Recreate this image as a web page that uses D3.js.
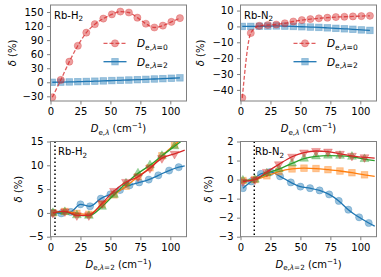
<!DOCTYPE html>
<html>
<head>
<meta charset="utf-8">
<script src="https://cdn.jsdelivr.net/npm/d3@7"></script>
<style>
  body { margin: 0; background: #fff; }
  text { font-family: "DejaVu Sans", sans-serif; }
</style>
</head>
<body>
<svg id="fig" width="381" height="277"></svg>
<script>
// top row: delta vs D_e,lambda
const xTop = [1.5, 8.6, 15.7, 22.8, 29.9, 37, 44.1, 51.2, 58.3, 65.4, 72.5, 79.6, 86.7, 93.8, 100.9, 108];
const h2Lam0 = [-32, 5, 44, 78, 106, 124, 136, 145, 151, 149, 138, 125, 117, 121, 129, 137];
const h2Lam2 = [0, 0.3, 0.7, 1.2, 1.7, 2.3, 2.9, 3.6, 4.2, 4.8, 5.5, 6.2, 7, 7.7, 8.6, 9.4];
const n2Lam0 = [-45, -4.2, 0.4, 0.9, 1.2, 2, 3.1, 4, 4.6, 5.1, 5.5, 5.9, 6.1, 6.3, 6.5, 6.7];
const n2Lam2 = [0, 0, 0.1, 0.2, 0.3, 0.2, 0, -0.2, -0.4, -0.6, -0.9, -1.2, -1.5, -1.8, -2.2, -2.5];

// bottom row: delta vs D_e,lambda=2
const xBlue = [2, 9, 17, 25, 33, 42, 50, 58, 66, 74, 82, 90, 99, 107];
const xFit = [2, 12, 22, 32, 43, 53, 63, 73, 83, 93, 103.5];
const xTail = 112;   // fitted curves run on to the frame edge

const h2Blue = [0, -0.1, 0.2, 1.8, 1.4, 3.0, 3.9, 4.8, 5.8, 6.4, 7.0, 7.9, 8.9, 9.6];
const h2Orange = [0, 0.3, -0.1, -0.3, 1.8, 3.8, 5.6, 7.6, 9.5, 12, 14.3];
const h2Green = [0, 0.2, -0.5, -0.6, 1.3, 3.8, 6.2, 8.3, 10, 12, 14];
const h2Red = [0, 0.3, -0.5, -0.5, 2.0, 4.6, 6.5, 7.6, 9.4, 11.5, 12.4];
const h2Tail = [9.9, 16, 15.6, 13.2];

const n2Blue = [-0.45, -0.1, 0.3, 0.4, 0.17, -0.15, -0.37, -0.45, -0.57, -0.78, -1.12, -1.58, -1.98, -2.28];
const n2Orange = [-0.05, 0, 0.2, 0.42, 0.56, 0.6, 0.58, 0.52, 0.45, 0.36, 0.25];
const n2Green = [-0.05, 0, 0.33, 0.55, 0.85, 1.1, 1.22, 1.26, 1.25, 1.2, 1.08];
const n2Red = [-0.1, 0, 0.4, 0.8, 1.2, 1.42, 1.5, 1.47, 1.35, 1.25, 1.17];
const n2Tail = [-2.45, 0.17, 1.0, 1.13];

const refH2 = 3.75;
const refN2 = 11.5;

const xTicks = [0, 25, 50, 75, 100];
const colors = {blue: '#1f77b4', orange: '#ff7f0e', green: '#2ca02c', red: '#d62728'};

const svg = d3.select('#fig');
const spine = '#808080';

// write a label made of pieces, some of them sub- or superscript
function rich(g, x, y, parts, anchor, size) {
  size = size || 10;
  let t = g.append('text').attr('x', x).attr('y', y)
    .attr('text-anchor', anchor || 'start').attr('font-size', size).attr('fill', '#000');
  let shift = 0;
  parts.forEach(p => {
    let target = p.sub ? 2.6 : (p.sup ? -4 : 0);
    let s = t.append('tspan').text(p.t).attr('dy', target - shift);
    shift = target;
    if (p.sub || p.sup) s.attr('font-size', size * 0.72);
    if (p.it) s.attr('font-style', 'italic');
  });
  return t;
}

function marker(g, shape, cx, cy, color) {
  let m;
  if (shape === 'circle') {
    m = g.append('circle').attr('cx', cx).attr('cy', cy).attr('r', 3.6);
  } else if (shape === 'square') {
    m = g.append('rect').attr('x', cx - 3.3).attr('y', cy - 3.3).attr('width', 6.6).attr('height', 6.6);
  } else {
    let sym = d3.symbol().type(d3.symbolTriangle).size(34);
    m = g.append('path').attr('d', sym())
      .attr('transform', `translate(${cx},${cy})` + (shape === 'down' ? ' rotate(180)' : ''));
  }
  m.attr('fill', color).attr('fill-opacity', 0.45).attr('stroke', color).attr('stroke-opacity', 0.35).attr('stroke-width', 0.8);
}

function series(g, x, y, xs, ys, tail, shape, color, dashed) {
  let pts = xs.map((v, i) => [v, ys[i]]);
  let linePts = tail === null ? pts : pts.concat([[xTail, tail]]);
  let line = d3.line().x(d => x(d[0])).y(d => y(d[1])).curve(d3.curveMonotoneX);
  let p = g.append('path').attr('d', line(linePts)).attr('fill', 'none')
    .attr('stroke', color).attr('stroke-width', 1.3);
  if (dashed) p.attr('stroke-dasharray', '4,2').attr('stroke-opacity', 0.75);
  pts.forEach(d => marker(g, shape, x(d[0]), y(d[1]), color));
}

function panel(cfg) {
  let x = d3.scaleLinear().domain([0, 113.5]).range([cfg.left, cfg.left + 136]);
  let y = d3.scaleLinear().domain(cfg.yDomain).range([cfg.bottom, cfg.top]);
  let g = svg.append('g');

  svg.append('clipPath').attr('id', 'clip' + cfg.id).append('rect')
    .attr('x', cfg.left).attr('y', cfg.top).attr('width', 136).attr('height', cfg.bottom - cfg.top);

  let gx = g.append('g').attr('transform', `translate(0,${cfg.bottom})`)
    .call(d3.axisBottom(x).tickValues(xTicks).tickFormat(d3.format('d')).tickSize(3.5).tickPadding(3.5));
  let gy = g.append('g').attr('transform', `translate(${cfg.left},0)`)
    .call(d3.axisLeft(y).tickValues(cfg.yTicks).tickFormat(d3.format('d')).tickSize(3.5).tickPadding(3.5));
  [gx, gy].forEach(a => {
    a.select('.domain').remove();
    a.attr('font-family', null).attr('font-size', 10);
    a.selectAll('line').attr('stroke', spine);
    a.selectAll('text').attr('fill', '#000');
  });

  let plot = g.append('g').attr('clip-path', `url(#clip${cfg.id})`);
  if (cfg.ref !== undefined) {
    plot.append('line').attr('x1', x(cfg.ref)).attr('x2', x(cfg.ref))
      .attr('y1', cfg.top).attr('y2', cfg.bottom)
      .attr('stroke', '#000').attr('stroke-width', 1.5).attr('stroke-dasharray', '1.5,2.5');
  }
  cfg.draw(plot, x, y);

  g.append('rect').attr('x', cfg.left).attr('y', cfg.top)
    .attr('width', 136).attr('height', cfg.bottom - cfg.top)
    .attr('fill', 'none').attr('stroke', spine).attr('stroke-width', 1);

  // panel tag
  rich(g, cfg.tagX, cfg.top + 13.6, [{t: cfg.tag[0]}, {t: cfg.tag[1], sub: true}]);

  // axis labels
  let xl = cfg.bottomRow
    ? [{t: 'D', it: true}, {t: 'e,', sub: true}, {t: 'λ', sub: true, it: true}, {t: '=2', sub: true}, {t: ' (cm'}, {t: '−1', sup: true}, {t: ')'}]
    : [{t: 'D', it: true}, {t: 'e,', sub: true}, {t: 'λ', sub: true, it: true}, {t: ' (cm'}, {t: '−1', sup: true}, {t: ')'}];
  rich(g, cfg.left + 68, cfg.bottom + 31, xl, 'middle');

  let yl = g.append('text').attr('text-anchor', 'middle').attr('font-size', 10)
    .attr('transform', `translate(${cfg.ylabelX},${(cfg.top + cfg.bottom) / 2}) rotate(-90)`)
    .attr('dy', '0.35em');
  yl.append('tspan').attr('font-style', 'italic').text('δ');
  yl.append('tspan').text(' (%)');

  if (cfg.legend) {
    let lg = g.append('g');
    [[0, 'circle', colors.red, true, '=0'], [1, 'square', colors.blue, false, '=2']].forEach(e => {
      let ly = cfg.top + 38.3 + e[0] * 18.4;
      let l = lg.append('line').attr('x1', cfg.left + 53).attr('x2', cfg.left + 76)
        .attr('y1', ly).attr('y2', ly).attr('stroke', e[2]).attr('stroke-width', 1.3);
      if (e[3]) l.attr('stroke-dasharray', '4,2').attr('stroke-opacity', 0.75);
      marker(lg, e[1], cfg.left + 64.5, ly, e[2]);
      rich(lg, cfg.left + 86.5, ly + 3.8,
        [{t: 'D', it: true}, {t: 'e,', sub: true}, {t: 'λ', sub: true, it: true}, {t: e[4], sub: true}], 'start', 10.5);
    });
  }
}

panel({
  id: 'tl', left: 50.5, top: 5, bottom: 101, yDomain: [-40, 165],
  yTicks: [-30, 0, 30, 60, 90, 120, 150], tag: ['Rb-H', '2'], tagX: 54, ylabelX: 12,
  legend: true,
  draw: (g, x, y) => {
    series(g, x, y, xTop, h2Lam2, null, 'square', colors.blue, false);
    series(g, x, y, xTop, h2Lam0, null, 'circle', colors.red, true);
  }
});

panel({
  id: 'tr', left: 240.5, top: 5, bottom: 101, yDomain: [-47, 13.5],
  yTicks: [-40, -30, -20, -10, 0, 10], tag: ['Rb-N', '2'], tagX: 244, ylabelX: 200,
  legend: true,
  draw: (g, x, y) => {
    series(g, x, y, xTop, n2Lam2, null, 'square', colors.blue, false);
    series(g, x, y, xTop, n2Lam0, null, 'circle', colors.red, true);
  }
});

panel({
  id: 'bl', left: 50.5, top: 141.5, bottom: 236.7, yDomain: [-5, 15], bottomRow: true,
  yTicks: [-5, 0, 5, 10, 15], tag: ['Rb-H', '2'], tagX: 58, ylabelX: 18, ref: refH2,
  draw: (g, x, y) => {
    series(g, x, y, xBlue, h2Blue, h2Tail[0], 'circle', colors.blue);
    series(g, x, y, xFit, h2Orange, h2Tail[1], 'square', colors.orange);
    series(g, x, y, xFit, h2Green, h2Tail[2], 'up', colors.green);
    series(g, x, y, xFit, h2Red, h2Tail[3], 'down', colors.red);
  }
});

panel({
  id: 'br', left: 240.5, top: 141.5, bottom: 236.7, yDomain: [-3, 2], bottomRow: true,
  yTicks: [-3, -2, -1, 0, 1, 2], tag: ['Rb-N', '2'], tagX: 255, ylabelX: 208.5, ref: refN2,
  draw: (g, x, y) => {
    series(g, x, y, xBlue, n2Blue, n2Tail[0], 'circle', colors.blue);
    series(g, x, y, xFit, n2Orange, n2Tail[1], 'square', colors.orange);
    series(g, x, y, xFit, n2Green, n2Tail[2], 'up', colors.green);
    series(g, x, y, xFit, n2Red, n2Tail[3], 'down', colors.red);
  }
});
</script>
</body>
</html>
